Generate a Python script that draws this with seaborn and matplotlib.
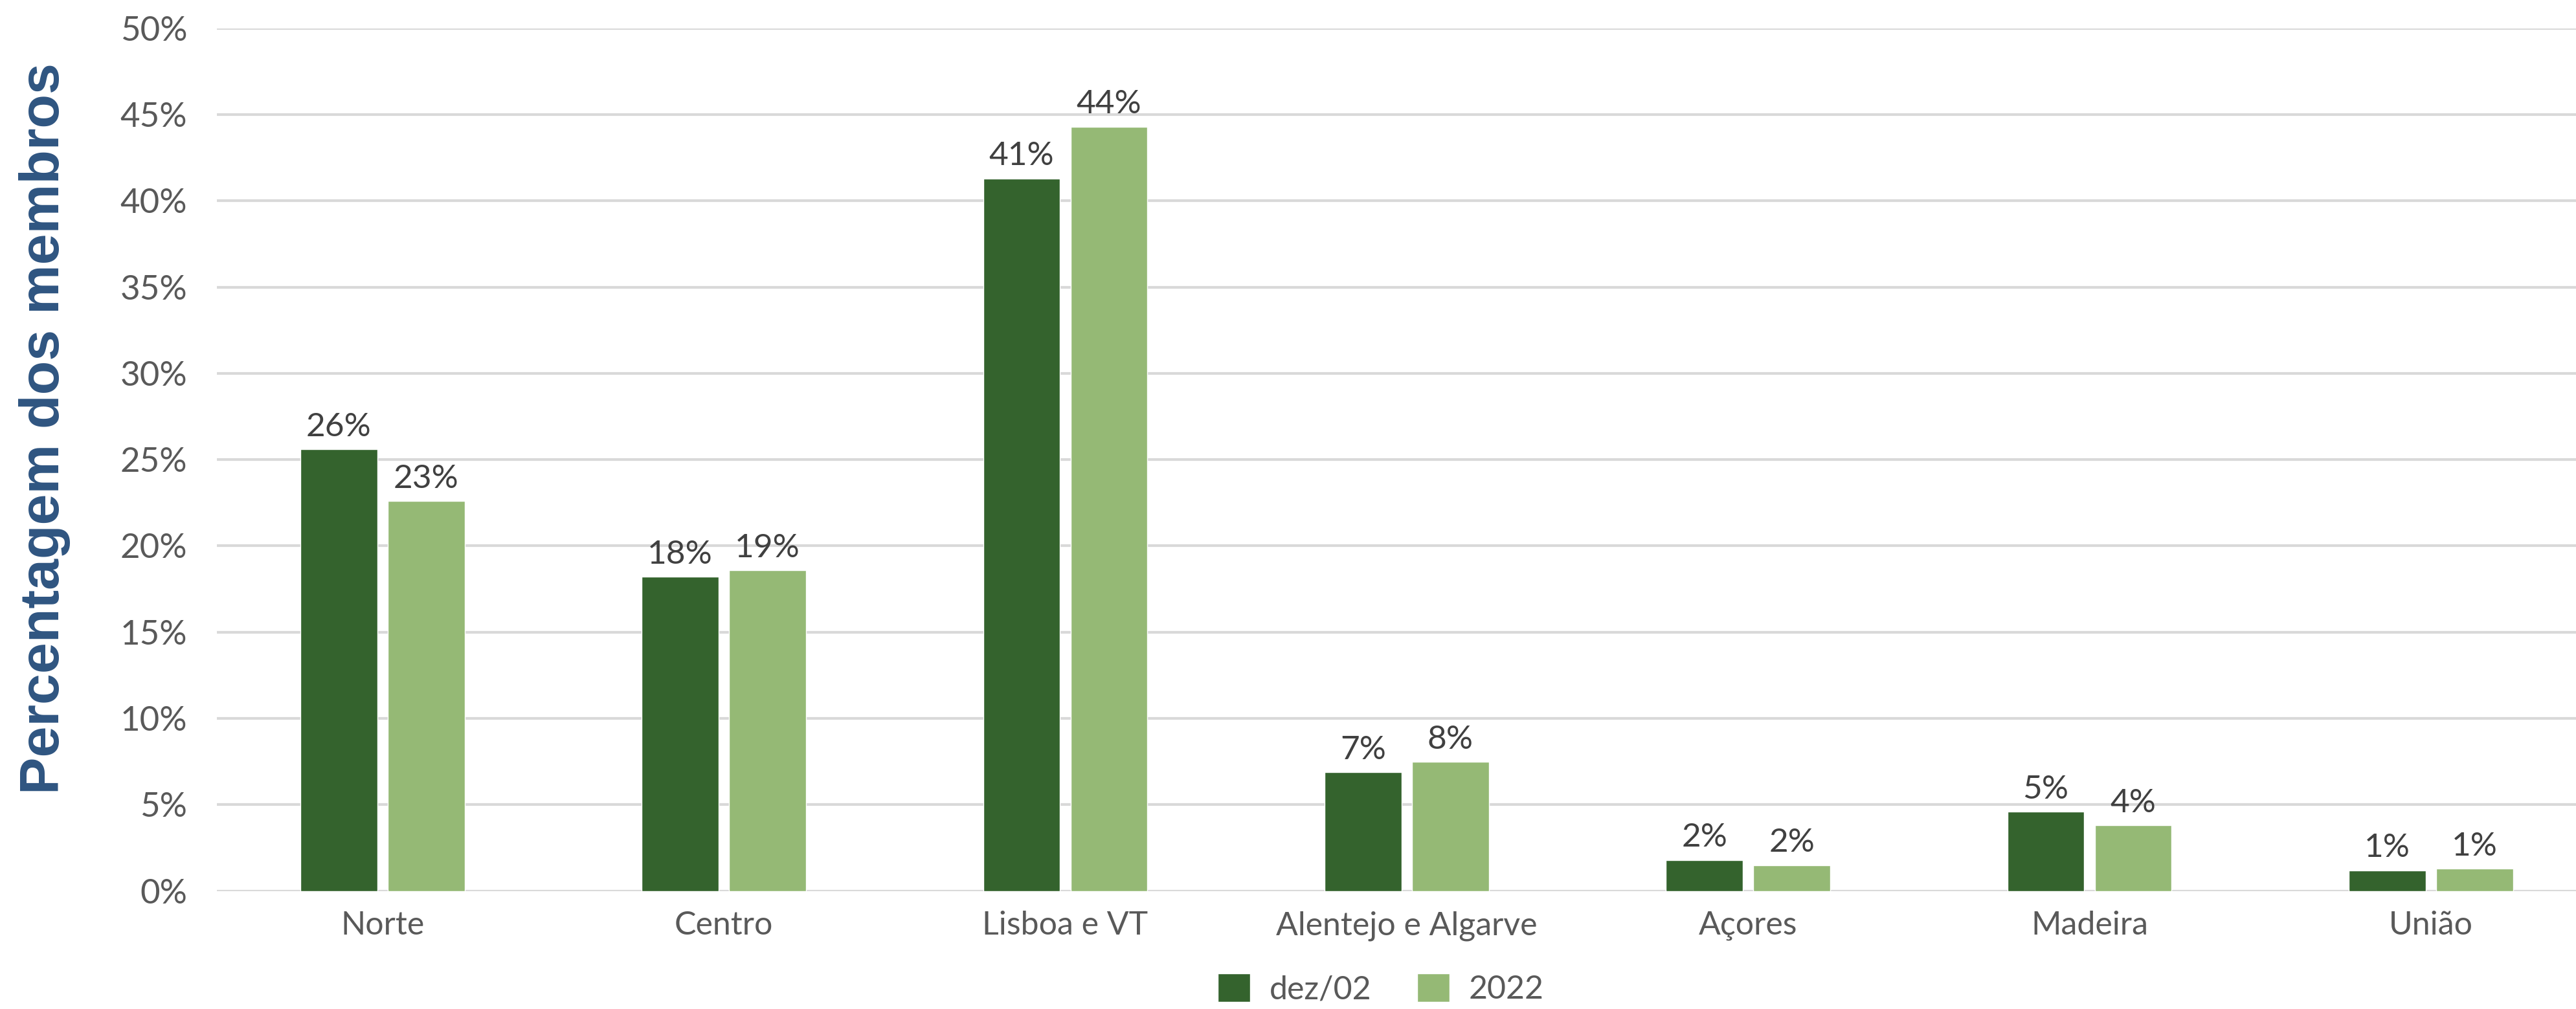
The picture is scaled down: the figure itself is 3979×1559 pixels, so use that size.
import pandas as pd
import numpy as np
import matplotlib.pyplot as plt
import seaborn as sns
from matplotlib.ticker import PercentFormatter

# Data (percent of members)
regioes = ['Norte', 'Centro', 'Lisboa e VT', 'Alentejo e Algarve', 'Açores', 'Madeira', 'União']
dez02 = [25.6, 18.2, 41.3, 6.9, 1.8, 4.6, 1.2]
ano2022 = [22.6, 18.6, 44.3, 7.5, 1.5, 3.8, 1.3]
series = ['dez/02', '2022']
cores = ['#34632D', '#95B975']

df = pd.DataFrame({
    'regiao': regioes * 2,
    'serie': [series[0]] * len(regioes) + [series[1]] * len(regioes),
    'valor': dez02 + ano2022,
})

sns.set_theme(style='white')
plt.rcParams['font.family'] = ['Lato', 'DejaVu Sans']

fig = plt.figure(figsize=(39.79, 15.59), dpi=100)
ax = fig.add_axes([0.0842, 0.117, 0.9158, 0.855])

sns.barplot(data=df, x='regiao', y='valor', hue='serie', palette=cores,
            saturation=1, width=0.512, gap=0.12, ax=ax, legend=True)

# value labels on top of each bar
for cont in ax.containers:
    ax.bar_label(cont, labels=[f'{v:.0f}%' for v in cont.datavalues],
                 padding=8, fontsize=37, color='#404040')

ax.set_ylim(0, 50)
ax.set_xlim(-0.485, 6.425)
ax.set_yticks(np.arange(0, 51, 5))
ax.yaxis.set_major_formatter(PercentFormatter(decimals=0))
ax.grid(axis='y', color='#D9D9D9', linewidth=3)
ax.set_axisbelow(True)
for s in ax.spines.values():
    s.set_visible(False)
ax.tick_params(axis='both', length=0, labelsize=36, labelcolor='#595959')
ax.tick_params(axis='y', pad=33, labelsize=38)
ax.tick_params(axis='x', pad=22)
ax.set_xlabel('')
ax.set_ylabel('Percentagem dos membros', fontsize=62, fontweight='bold',
              color='#2F5581', family=['Liberation Sans', 'DejaVu Sans'])
ax.yaxis.set_label_coords(-0.062, 0.536)

ax.legend(loc='center', bbox_to_anchor=(0.536, 0.02), bbox_transform=fig.transFigure,
          ncol=2, frameon=False, fontsize=36, handlelength=1.0, handleheight=1.0,
          handletextpad=0.6, columnspacing=1.4, labelcolor='#595959')

fig.savefig('out.png', dpi=100)
